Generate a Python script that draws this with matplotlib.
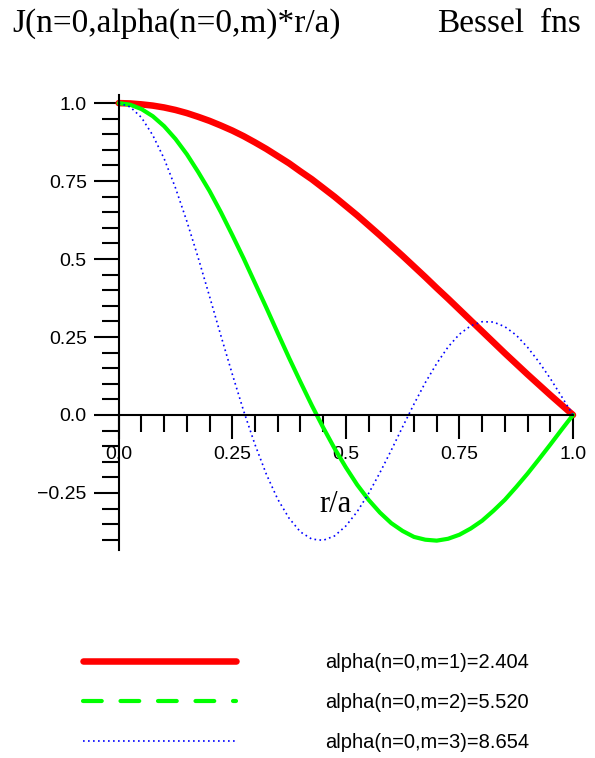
import numpy as np
import matplotlib
matplotlib.use("Agg")
import matplotlib.pyplot as plt
from matplotlib.lines import Line2D
from matplotlib.ticker import MultipleLocator

# r/a sample positions
r_vals = [0.0, 0.025, 0.05, 0.075, 0.10, 0.125, 0.15, 0.175, 0.20, 0.225,
          0.25, 0.275, 0.30, 0.325, 0.35, 0.375, 0.40, 0.425, 0.45, 0.475,
          0.50, 0.525, 0.55, 0.575, 0.60, 0.625, 0.65, 0.675, 0.70, 0.725,
          0.75, 0.775, 0.80, 0.825, 0.85, 0.875, 0.90, 0.925, 0.95, 0.975, 1.0]

# J0 values
j_m1 = [1.0, 0.999, 0.996, 0.992, 0.986, 0.978, 0.968, 0.956, 0.943, 0.928,
        0.912, 0.894, 0.874, 0.853, 0.830, 0.807, 0.781, 0.756, 0.728, 0.700,
        0.670, 0.640, 0.608, 0.576, 0.543, 0.510, 0.476, 0.442, 0.407, 0.373,
        0.338, 0.303, 0.268, 0.233, 0.198, 0.164, 0.130, 0.097, 0.064, 0.032, 0.0]
j_m2 = [1.0, 0.995, 0.981, 0.958, 0.926, 0.885, 0.836, 0.779, 0.718, 0.650,
        0.577, 0.502, 0.423, 0.344, 0.263, 0.183, 0.106, 0.031, -0.040, -0.107,
        -0.168, -0.224, -0.272, -0.313, -0.347, -0.372, -0.391, -0.400, -0.403, -0.397,
        -0.384, -0.364, -0.339, -0.307, -0.272, -0.231, -0.188, -0.142, -0.095, -0.047, 0.0]
j_m3 = [1.0, 0.988, 0.954, 0.897, 0.822, 0.728, 0.621, 0.504, 0.380, 0.254,
        0.131, 0.013, -0.095, -0.190, -0.270, -0.331, -0.375, -0.398, -0.402, -0.388,
        -0.356, -0.310, -0.252, -0.185, -0.113, -0.038, 0.035, 0.104, 0.165, 0.218,
        0.259, 0.286, 0.299, 0.298, 0.283, 0.256, 0.217, 0.170, 0.117, 0.059, 0.0]

legend_labels = ["alpha(n=0,m=1)=2.404", "alpha(n=0,m=2)=5.520", "alpha(n=0,m=3)=8.654"]

x_ticks = [0.0, 0.25, 0.5, 0.75, 1.0]
x_ticklabels = ["0.0", "0.25", "0.5", "0.75", "1.0"]
y_ticks = [-0.25, 0.0, 0.25, 0.5, 0.75, 1.0]
y_ticklabels = ["\u22120.25", "0.0", "0.25", "0.5", "0.75", "1.0"]

sans = "Liberation Sans"
serif = "Liberation Serif"

fig = plt.figure(figsize=(5.95, 7.58), dpi=100)
W, H = 595.0, 758.0
ax = fig.add_axes([118.7 / W, (H - 550) / H, (573 - 118.7) / W, (550 - 95) / H])
ax.set_xlim(0, 1)
ax.set_ylim(-0.433, 1.026)

for s in ["top", "right"]:
    ax.spines[s].set_visible(False)
ax.spines["bottom"].set_position(("data", 0))
ax.spines["left"].set_linewidth(1.5)
ax.spines["bottom"].set_linewidth(1.5)

ax.set_xticks(x_ticks)
ax.set_xticklabels(x_ticklabels, fontfamily=sans, fontsize=14)
ax.set_yticks(y_ticks)
ax.set_yticklabels(y_ticklabels, fontfamily=sans, fontsize=14)
ax.xaxis.set_minor_locator(MultipleLocator(0.05))
ax.yaxis.set_minor_locator(MultipleLocator(0.05))
ax.tick_params(axis="x", which="major", direction="out", length=17.5, width=1.5, pad=5)
ax.tick_params(axis="x", which="minor", direction="out", length=12.3, width=1.5)
ax.tick_params(axis="y", which="major", direction="out", length=18, width=1.5, pad=5)
ax.tick_params(axis="y", which="minor", direction="out", length=12.5, width=1.5)

ax.plot(r_vals, j_m1, color="#ff0000", lw=4.7, solid_capstyle="round", clip_on=False)
ax.plot(r_vals, j_m2, color="#00ff00", lw=3, solid_capstyle="round", clip_on=False)
ax.plot(r_vals, j_m3, color="#0000ff", lw=1.2, linestyle=(0, (1, 2)), clip_on=False)

ax.text(0.478, -0.288, "r/a", ha="center", va="center", fontfamily=serif, fontsize=22)

fig.text(12 / W, 1 - 31.7 / H, "J(n=0,alpha(n=0,m)*r/a)", va="baseline",
         fontfamily=serif, fontsize=24)
fig.text(437 / W, 1 - 31.7 / H, "Bessel", va="baseline", fontfamily=serif, fontsize=24)
fig.text(540 / W, 1 - 31.7 / H, "fns", va="baseline", fontfamily=serif, fontsize=24)

handles = [
    Line2D([], [], color="#ff0000", lw=4.7, solid_capstyle="round"),
    Line2D([], [], color="#00ff00", lw=3, linestyle=(0, (4.5, 4.5)), dash_capstyle="round"),
    Line2D([], [], color="#0000ff", lw=1.2, linestyle=(0, (1, 2))),
]
leg = fig.legend(handles, legend_labels, loc="upper left",
                 bbox_to_anchor=(83 / W, 1 - 653 / H), frameon=False,
                 prop={"family": sans, "size": 14.5},
                 handlelength=7.6, handletextpad=4.4, labelspacing=1.05,
                 borderpad=0, borderaxespad=0)

fig.savefig("out.png", dpi=100)
